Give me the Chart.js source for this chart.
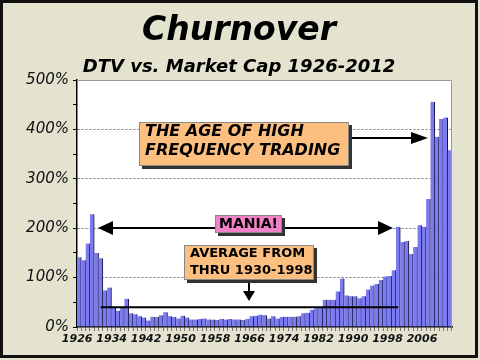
<!DOCTYPE html>
<html>
<head>
<meta charset="utf-8">
<script src="https://cdn.jsdelivr.net/npm/chart.js@4/dist/chart.umd.min.js"></script>
<style>
  html, body { margin: 0; padding: 0; background: #e3e3d0; }
  #wrap { width: 480px; height: 360px; position: relative; }
</style>
</head>
<body>
<div id="wrap"><canvas id="churn" width="480" height="360"></canvas></div>
<script>
// Chart data
const years = [
  '1926','1927','1928','1929','1930','1931','1932','1933','1934','1935',
  '1936','1937','1938','1939','1940','1941','1942','1943','1944','1945',
  '1946','1947','1948','1949','1950','1951','1952','1953','1954','1955',
  '1956','1957','1958','1959','1960','1961','1962','1963','1964','1965',
  '1966','1967','1968','1969','1970','1971','1972','1973','1974','1975',
  '1976','1977','1978','1979','1980','1981','1982','1983','1984','1985',
  '1986','1987','1988','1989','1990','1991','1992','1993','1994','1995',
  '1996','1997','1998','1999','2000','2001','2002','2003','2004','2005',
  '2006','2007','2008','2009','2010','2011','2012'
];

// DTV / market cap, percent
const churnover = [
  141, 135, 169, 228, 150, 139, 74, 80, 39, 33,
  39, 57, 28, 26, 22, 19, 13, 21, 20, 24,
  30, 22, 20, 17, 23, 19, 15, 15, 16, 17,
  15, 15, 14, 16, 15, 16, 15, 15, 14, 16,
  22, 23, 25, 24, 17, 22, 17, 20, 21, 21,
  21, 22, 28, 29, 35, 38, 39, 55, 55, 55,
  72, 98, 64, 62, 62, 58, 62, 76, 84, 87,
  95, 102, 103, 115, 203, 172, 174, 148, 162, 206,
  203, 259, 456, 385, 421, 424, 358
];

// average line (drawn across these years)
const averageLine = [
  { x: '1931', y: 40 },
  { x: '2000', y: 40 }
];

const xTickLabels = ['1926','1934','1942','1950','1958','1966','1974','1982','1990','1998','2006'];
const yTickValues = [0, 100, 200, 300, 400, 500];

const titleText = 'Churnover';
const subtitleText = 'DTV vs. Market Cap 1926-2012';

const fontFamily = "'DejaVu Sans', Verdana, sans-serif";

function box(ctx, x, y, w, h, fill) {
  ctx.fillStyle = '#333';
  ctx.fillRect(x + 3, y + 3, w, h);
  ctx.fillStyle = fill;
  ctx.fillRect(x, y, w, h);
  ctx.strokeStyle = '#888';
  ctx.lineWidth = 1;
  ctx.strokeRect(x + 0.5, y + 0.5, w - 1, h - 1);
}

function arrowHead(ctx, tipX, tipY, dx, dy, len, half) {
  // dx, dy = unit direction of the arrow
  const bx = tipX - dx * len, by = tipY - dy * len;
  ctx.beginPath();
  ctx.moveTo(tipX, tipY);
  ctx.lineTo(bx - dy * half, by + dx * half);
  ctx.lineTo(bx + dy * half, by - dx * half);
  ctx.closePath();
  ctx.fill();
}

const decorations = {
  id: 'decorations',
  beforeDraw(chart) {
    const { ctx, chartArea: a } = chart;
    ctx.save();
    ctx.fillStyle = '#ffffff';
    ctx.fillRect(a.left, a.top, a.right - a.left, a.bottom - a.top);

    // titles
    ctx.fillStyle = '#000';
    ctx.textAlign = 'center';
    ctx.textBaseline = 'alphabetic';
    ctx.font = "italic bold 33px " + fontFamily;
    ctx.fillText(titleText, 239, 40);
    ctx.font = "italic bold 18px " + fontFamily;
    ctx.fillText(subtitleText, 239, 72);
    ctx.restore();
  },
  afterDatasetsDraw(chart) {
    const { ctx, chartArea: a } = chart;
    ctx.save();

    // plot frame (top / right)
    ctx.strokeStyle = '#999';
    ctx.lineWidth = 1;
    ctx.beginPath();
    ctx.moveTo(a.left, a.top + 0.5);
    ctx.lineTo(a.right - 0.5, a.top + 0.5);
    ctx.lineTo(a.right - 0.5, a.bottom);
    ctx.stroke();

    ctx.fillStyle = '#000';
    ctx.strokeStyle = '#000';
    ctx.lineWidth = 2;

    // HFT arrow
    ctx.beginPath();
    ctx.moveTo(349, 138);
    ctx.lineTo(414, 138);
    ctx.stroke();
    arrowHead(ctx, 428, 138, 1, 0, 17, 6);

    // MANIA double arrow
    ctx.beginPath();
    ctx.moveTo(110, 228);
    ctx.lineTo(381, 228);
    ctx.stroke();
    arrowHead(ctx, 98, 228, -1, 0, 15, 7);
    arrowHead(ctx, 393, 228, 1, 0, 15, 7);

    // average down arrow
    ctx.beginPath();
    ctx.moveTo(249, 280);
    ctx.lineTo(249, 292);
    ctx.stroke();
    arrowHead(ctx, 249, 301, 0, 1, 10, 6);

    // boxes
    box(ctx, 139, 122, 210, 44, '#fdbf80');
    ctx.fillStyle = '#000';
    ctx.font = "italic bold 16px " + fontFamily;
    ctx.textBaseline = 'middle';
    ctx.textAlign = 'left';
    ctx.fillText('THE AGE OF HIGH', 145, 132);
    ctx.fillText('FREQUENCY TRADING', 145, 151);

    box(ctx, 215, 215, 67, 18, '#f282c8');
    ctx.fillStyle = '#000';
    ctx.font = "bold 14px " + fontFamily;
    ctx.textAlign = 'center';
    ctx.fillText('MANIA!', 248.5, 224.5);

    box(ctx, 184, 245, 130, 35, '#fdbf80');
    ctx.fillStyle = '#000';
    ctx.font = "bold 13px " + fontFamily;
    ctx.textAlign = 'left';
    ctx.fillText('AVERAGE FROM', 190, 254);
    ctx.fillText('THRU 1930-1998', 190, 271);

    ctx.restore();
  },
  afterDraw(chart) {
    const { ctx } = chart;
    ctx.save();
    ctx.strokeStyle = '#111';
    ctx.lineWidth = 3;
    ctx.strokeRect(1.5, 1.5, 475, 355);
    ctx.restore();
  }
};

document.addEventListener('DOMContentLoaded', function() {
  const ctx = document.getElementById('churn').getContext('2d');
  new Chart(ctx, {
    type: 'bar',
    data: {
      labels: years,
      datasets: [
        {
          type: 'line',
          data: averageLine,
          borderColor: '#000',
          borderWidth: 2,
          pointRadius: 0,
          order: 0
        },
        {
          data: churnover,
          backgroundColor: '#7b7bef',
          borderColor: '#141440',
          borderWidth: { left: 0, right: 1, top: 0, bottom: 0 },
          borderSkipped: false,
          barPercentage: 1,
          categoryPercentage: 1,
          order: 1
        }
      ]
    },
    options: {
      responsive: false,
      animation: false,
      layout: { padding: { left: 0, right: 28, top: 80, bottom: 0 } },
      plugins: {
        legend: { display: false },
        tooltip: { enabled: false }
      },
      scales: {
        x: {
          offset: true,
          afterFit: s => { s.height = 33; },
          grid: {
            offset: true,
            drawOnChartArea: false,
            tickLength: 4,
            tickColor: '#777'
          },
          border: { color: '#000', width: 1.5 },
          ticks: {
            autoSkip: false,
            maxRotation: 0,
            labelOffset: -2,
            padding: 2,
            color: '#111',
            font: { family: fontFamily, size: 11, weight: 'bold', style: 'italic' },
            callback: function(v) {
              const l = this.getLabelForValue(v);
              return xTickLabels.includes(l) ? l : '';
            }
          }
        },
        y: {
          min: 0,
          max: 500,
          afterFit: s => { s.width = 77; },
          grid: {
            color: c => (yTickValues.includes(c.tick.value) && c.tick.value > 0 && c.tick.value < 500) ? '#777' : 'rgba(0,0,0,0)',
            tickColor: '#000',
            tickLength: 4
          },
          border: { color: '#000', width: 1.5, dash: [2, 2] },
          ticks: {
            stepSize: 50,
            padding: 4,
            color: '#111',
            font: { family: fontFamily, size: 15, style: 'italic' },
            callback: v => yTickValues.includes(v) ? v + '%' : ''
          }
        }
      }
    },
    plugins: [decorations]
  });
});
</script>
</body>
</html>
